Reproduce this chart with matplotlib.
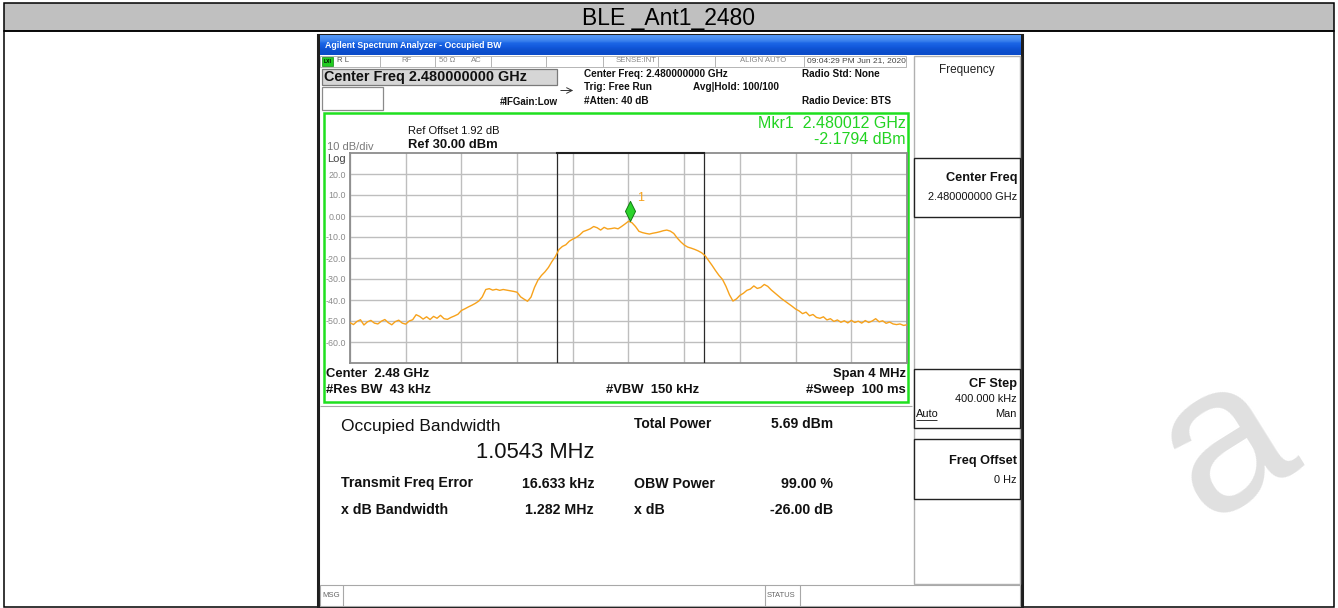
import numpy as np
import matplotlib
matplotlib.use("Agg")
import matplotlib.pyplot as plt
from matplotlib.patches import Rectangle
from matplotlib.path import Path
from matplotlib.colors import LinearSegmentedColormap

# ------------------------------------------------------------------ data
TITLE = "BLE _Ant1_2480"
CENTER_GHZ = 2.48
SPAN_MHZ = 4.0
REF_LEVEL_DBM = 30.0
DB_PER_DIV = 10.0
N_DIV = 10
Y_LABEL_VALUES = [20, 10, 0, -10, -20, -30, -40, -50, -60]
Y_LABELS = ["20.0", "10.0", "0.00", "-10.0", "-20.0", "-30.0", "-40.0", "-50.0", "-60.0"]

trace_dbm = [
    -50.8, -51.7, -50.2, -49.4, -51.9, -50.4, -49.7, -51.0, -51.4, -50.1,
    -49.3, -50.8, -51.8, -50.3, -49.6, -51.0, -51.5, -50.0, -49.4, -47.0,
    -47.8, -49.1, -48.0, -49.3, -47.8, -48.7, -47.3, -48.9, -49.2, -48.3,
    -47.6, -46.8, -45.0, -44.2, -43.3, -42.5, -41.6, -40.5, -38.5, -35.0,
    -34.6, -35.3, -34.9, -35.4, -35.0, -35.3, -35.6, -35.9, -36.3, -38.5,
    -39.6, -40.6, -38.6, -34.0, -30.5, -28.3, -26.6, -24.5, -21.7, -19.3,
    -16.0, -14.5, -13.7, -12.0, -11.0, -10.2, -9.0, -7.4, -6.8, -6.1,
    -5.0, -5.6, -6.7, -5.4, -6.2, -6.0, -5.7, -6.1, -5.0, -3.8,
    -2.5, -3.2, -5.0, -7.3, -7.9, -8.3, -8.6, -8.2, -7.9, -7.5,
    -7.0, -6.7, -7.2, -8.3, -10.5, -12.3, -13.8, -14.8, -15.3, -15.9,
    -16.6, -17.5, -18.9, -21.2, -23.5, -26.0, -28.3, -30.2, -33.5, -37.5,
    -40.5, -39.5, -37.8, -36.8, -35.4, -34.8, -33.3, -34.5, -34.0, -32.6,
    -33.5, -35.2, -36.6, -38.0, -39.4, -40.6, -41.8, -43.0, -44.3, -45.2,
    -46.5, -45.8, -47.5, -46.9, -48.3, -48.7, -48.0, -49.5, -48.9, -50.2,
    -49.5, -50.6, -49.9, -50.9, -49.7, -50.7, -50.1, -51.0, -49.8, -50.7,
    -50.0, -48.9, -50.4, -49.9, -51.1, -50.5, -51.4, -51.7, -51.4, -52.1,
    -51.8,
]

MARKER_FREQ_GHZ = 2.480012
MARKER_DBM = -2.1794
OBW_MHZ = 1.0543
FREQ_ERR_KHZ = 16.633
TOTAL_POWER = "5.69 dBm"
XDB_BW = "1.282 MHz"
OBW_POWER = "99.00 %"
XDB = "-26.00 dB"

# ------------------------------------------------------------------ style
FONT = ["Liberation Sans", "DejaVu Sans"]
plt.rcParams["font.family"] = FONT
GREEN_BOX = "#1fe01f"
GREEN_TXT = "#22d322"
ORANGE = "#f7a21b"

fig = plt.figure(figsize=(13.38, 6.08), dpi=100)
bg = fig.add_axes([0, 0, 1, 1])
bg.set_zorder(0)
bg.axis("off")


def rect(x0, y0, x1, y1, fc="none", ec="none", lw=1.0, z=1):
    bg.add_patch(Rectangle((x0, y0), x1 - x0, y1 - y0, facecolor=fc,
                           edgecolor=ec, linewidth=lw, zorder=z))


def hl(y, x0, x1, c, lw=0.8, z=3):
    bg.plot([x0, x1], [y, y], color=c, lw=lw, zorder=z, solid_capstyle="butt")


def vl(x, y0, y1, c, lw=0.8, z=3):
    bg.plot([x, x], [y0, y1], color=c, lw=lw, zorder=z, solid_capstyle="butt")


def t(x, y, s, size, ha="left", va="center", weight="normal", color="#111111", z=6, **kw):
    bg.text(x, y, s, fontsize=size, ha=ha, va=va, fontweight=weight,
            color=color, zorder=z, **kw)


# watermark (behind everything)
t(1226, 446, "a", 150, ha="center", va="center", color="#e0e0e0", z=0.5, rotation=32)

# outer table
rect(4, 3, 1334, 31, fc="#c0c0c0", ec="black", lw=1.1, z=1)
rect(4, 31, 1334, 606.5, fc="none", ec="black", lw=1.1, z=1)
t(669, 18, TITLE, 16.5, ha="center", color="#000000")

# screenshot frame
rect(318, 35, 1022, 607, fc="white", ec="#1e1e1e", lw=2.2, z=1.5)

# blue window title bar (vertical gradient)
grad = np.array([[0.0], [0.15], [0.5], [0.85], [1.0]])
cm = LinearSegmentedColormap.from_list("xp", ["#4f93f2", "#1c66e6", "#1259dc", "#0b4cca"])
bg.imshow(grad, extent=(319.5, 1020.5, 55.5, 36.0), aspect="auto", cmap=cm, zorder=2,
          interpolation="bilinear")
t(325, 46, "Agilent Spectrum Analyzer - Occupied BW", 6.3, color="white", weight="bold")

# status row
rect(320, 56, 906, 66.5, fc="white", ec="#b5b5b5", lw=0.7, z=2)
for sx in [379.7, 434.7, 490.7, 546.3, 603, 658, 714.7, 804]:
    vl(sx, 56, 66.5, "#b5b5b5", lw=0.7)
rect(321.5, 56.5, 333, 65.5, fc="#22cc22", ec="#118811", lw=0.5, z=3)
t(327.2, 61.2, "LXI", 3.6, ha="center", color="#000000", weight="bold")
t(337, 61, "R L", 5.6, color="#555555")
t(401, 61, "RF", 5.6, color="#888888")
t(439, 61, "50 Ω", 5.6, color="#888888")
t(471, 61, "AC", 5.6, color="#888888")
t(636, 61, "SENSE:INT", 5.6, ha="center", color="#888888")
t(763, 61, "ALIGN AUTO", 5.6, ha="center", color="#888888")
t(807, 61, "09:04:29 PM Jun 21, 2020", 6.0, color="#444444")

# centre freq box
rect(322, 69, 557, 85, fc="#d6d6d6", ec="#7a7a7a", lw=0.9, z=2)
t(324.5, 77.5, "Center Freq 2.480000000 GHz", 10.4, weight="bold", color="#111111")
rect(322, 87, 383, 110, fc="white", ec="#8a8a8a", lw=0.9, z=2)
t(500, 102, "#IFGain:Low", 7.0, weight="bold")
bg.annotate("", xy=(576, 90.5), xytext=(558, 90.5),
            arrowprops=dict(arrowstyle="->", color="#333333", lw=0.7), zorder=4)

t(584, 74, "Center Freq: 2.480000000 GHz", 7.2, weight="bold")
t(584, 87, "Trig: Free Run", 7.2, weight="bold")
t(693, 87, "Avg|Hold: 100/100", 7.2, weight="bold")
t(584, 100.5, "#Atten: 40 dB", 7.2, weight="bold")
t(802, 74, "Radio Std: None", 7.2, weight="bold")
t(802, 100.5, "Radio Device: BTS", 7.2, weight="bold")

# green trace window
rect(323.5, 113, 908, 402, fc="white", ec=GREEN_BOX, lw=1.8, z=2)
t(906, 123.5, "Mkr1  2.480012 GHz", 11.5, ha="right", color=GREEN_TXT)
t(906, 140, "-2.1794 dBm", 11.5, ha="right", color=GREEN_TXT)
t(408.5, 131, "Ref Offset 1.92 dB", 8.0)
t(408.5, 145, "Ref 30.00 dBm", 9.4, weight="bold")
t(327, 147, "10 dB/div", 8.0, color="#7a7a7a")
t(327, 159, "Log", 8.0, color="#444444")
t(326.5, 374, "Center  2.48 GHz", 9.4, weight="bold")
t(326.5, 390, "#Res BW  43 kHz", 9.4, weight="bold")
t(606, 390, "#VBW  150 kHz", 9.4, weight="bold")
t(906, 374, "Span 4 MHz", 9.4, ha="right", weight="bold")
t(906, 390, "#Sweep  100 ms", 9.4, ha="right", weight="bold")

# lower result panel
hl(405.5, 320, 912, "#a8a8a8", lw=0.8)
t(341, 426, "Occupied Bandwidth", 12.5)
t(594, 452, "%.4f MHz" % OBW_MHZ, 15.8, ha="right")
t(634, 423.5, "Total Power", 10.0, weight="bold")
t(833, 423.5, TOTAL_POWER, 10.0, ha="right", weight="bold")
t(341, 483.5, "Transmit Freq Error", 10.2, weight="bold")
t(594, 483.5, "%.3f kHz" % FREQ_ERR_KHZ, 10.2, ha="right", weight="bold")
t(634, 483.5, "OBW Power", 10.2, weight="bold")
t(833, 483.5, OBW_POWER, 10.2, ha="right", weight="bold")
t(341, 509.5, "x dB Bandwidth", 10.2, weight="bold")
t(594, 509.5, XDB_BW, 10.2, ha="right", weight="bold")
t(634, 509.5, "x dB", 10.2, weight="bold")
t(833, 509.5, XDB, 10.2, ha="right", weight="bold")

# bottom message bar
rect(320, 584.5, 1020, 605.5, fc="white", ec="#a8a8a8", lw=0.8, z=2)
vl(343, 584.5, 605.5, "#a8a8a8")
vl(765, 584.5, 605.5, "#a8a8a8")
vl(800, 584.5, 605.5, "#a8a8a8")
t(322, 595.5, "MSG", 5.6, color="#666666")
t(767, 595.5, "STATUS", 5.5, color="#666666")

# softkey panel
rect(913.5, 56, 1019.5, 584, fc="white", ec="#b0b0b0", lw=1.0, z=2)
t(967, 70.5, "Frequency", 8.5, ha="center", color="#222222")
rect(914, 158, 1020, 217, fc="white", ec="#222222", lw=1.0, z=3)
t(1017, 178.5, "Center Freq", 9.2, ha="right", weight="bold")
t(1017, 197.5, "2.480000000 GHz", 7.9, ha="right")
rect(914, 368.5, 1020, 428, fc="white", ec="#222222", lw=1.0, z=3)
t(1017, 384, "CF Step", 9.2, ha="right", weight="bold")
t(1017, 399.5, "400.000 kHz", 7.9, ha="right")
t(916, 414, "Auto", 7.9)
hl(419.5, 916, 936.5, "#111111", lw=0.6, z=6)
t(1017, 414, "Man", 7.9, ha="right")
rect(914, 439, 1020, 499, fc="white", ec="#222222", lw=1.0, z=3)
t(1017, 461, "Freq Offset", 9.2, ha="right", weight="bold")
t(1017, 480, "0 Hz", 7.9, ha="right")

bg.set_xlim(0, 1338)
bg.set_ylim(608, 0)

# ------------------------------------------------------------------ spectrum axes
W, H = 1338.0, 608.0
ax = fig.add_axes([350 / W, (H - 363) / H, 557 / W, 210 / H])
ax.set_zorder(5)
f0 = CENTER_GHZ - SPAN_MHZ / 2000.0
f1 = CENTER_GHZ + SPAN_MHZ / 2000.0
bottom = REF_LEVEL_DBM - N_DIV * DB_PER_DIV
ax.set_xlim(f0, f1)
ax.set_ylim(bottom, REF_LEVEL_DBM)
ax.set_xticks(np.linspace(f0, f1, N_DIV + 1))
ax.set_xticklabels([])
ax.set_yticks(Y_LABEL_VALUES, labels=Y_LABELS)
ax.tick_params(axis="both", length=0)
ax.tick_params(axis="y", pad=3, labelsize=6.4, labelcolor="#8a8a8a")
ax.grid(True, color="#bebebe", lw=1.0)
ax.set_axisbelow(True)
for sp in ax.spines.values():
    sp.set_color("#8c8c8c")
    sp.set_linewidth(1.3)

freq_ghz = CENTER_GHZ + np.linspace(-SPAN_MHZ / 2, SPAN_MHZ / 2, len(trace_dbm)) / 1000.0
ax.plot(freq_ghz, trace_dbm, color=ORANGE, lw=1.0, zorder=4)

# occupied-bandwidth lines
obw_c = CENTER_GHZ + FREQ_ERR_KHZ / 1e6
obw_l = obw_c - OBW_MHZ / 2000.0
obw_r = obw_c + OBW_MHZ / 2000.0
for fx in (obw_l, obw_r):
    ax.axvline(fx, color="#2a2a2a", lw=0.9, zorder=3)
ax.plot([obw_l, obw_r], [REF_LEVEL_DBM, REF_LEVEL_DBM], color="#222222", lw=1.5,
        clip_on=False, zorder=6)

# marker (diamond sitting on the trace)
diamond = Path([(0, 0), (0.5, 1), (0, 2), (-0.5, 1), (0, 0)],
               [Path.MOVETO, Path.LINETO, Path.LINETO, Path.LINETO, Path.CLOSEPOLY])
ax.plot([MARKER_FREQ_GHZ], [MARKER_DBM], marker=diamond, markersize=29,
        markerfacecolor="#2bd42b", markeredgecolor="#137a13", markeredgewidth=0.7,
        linestyle="none", zorder=7)
ax.annotate("1", (MARKER_FREQ_GHZ, MARKER_DBM), xytext=(5, 14), textcoords="offset points",
            color=ORANGE, fontsize=9, zorder=8)

fig.savefig("out.png", dpi=100)
